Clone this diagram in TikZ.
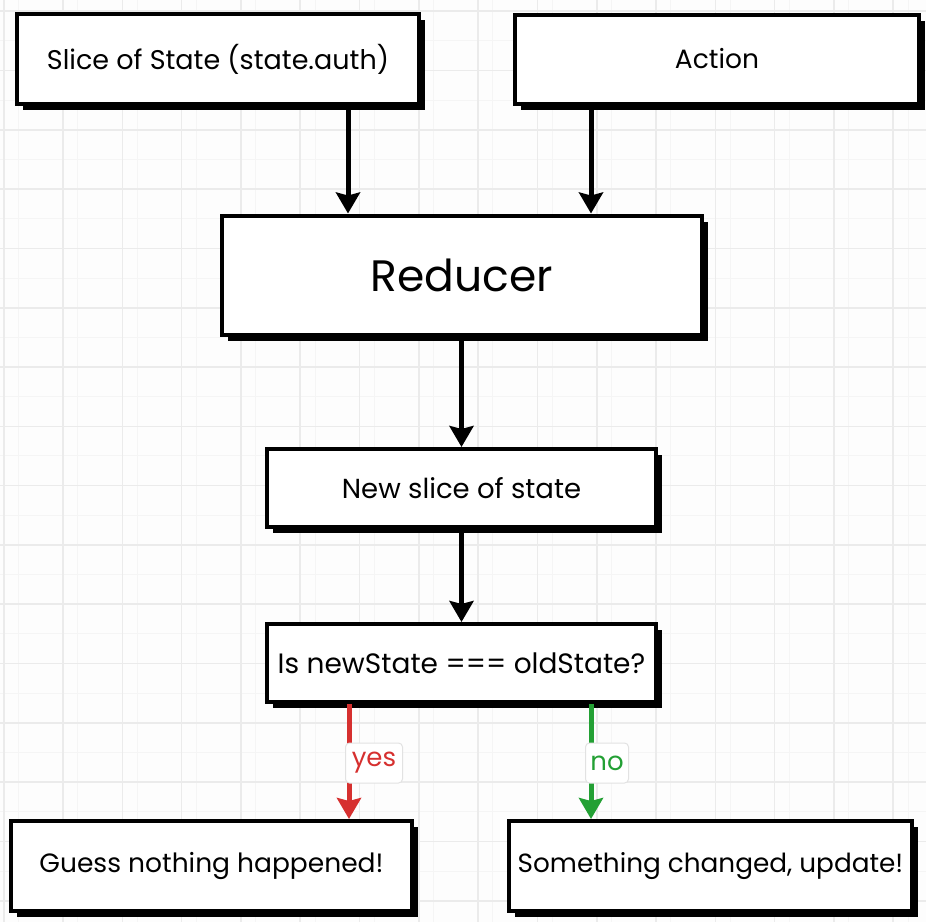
\documentclass[tikz,border=0pt]{standalone}
\usepackage{fontspec}
\setmainfont{Poppins}
\usetikzlibrary{arrows.meta,shadows}
\definecolor{paper}{HTML}{FDFDFD}
\definecolor{gridmajor}{HTML}{EBEBEB}
\definecolor{gridminor}{HTML}{F5F5F5}
\definecolor{yesred}{HTML}{D6302F}
\definecolor{nogreen}{HTML}{23A034}
\definecolor{tagline}{HTML}{E2E2E2}
\newcommand{\fs}[1]{\fontsize{#1}{#1}\selectfont}
\begin{document}
\begin{tikzpicture}[x=1pt,y=-1pt,
  box/.style={draw=black, line width=4pt, fill=white, inner sep=0pt,
    align=center,
    drop shadow={shadow xshift=6pt, shadow yshift=-6pt, fill=black, opacity=1}},
  arr/.style={line width=5pt, -{Stealth[length=21pt,width=24pt,inset=3pt]}},
  tag/.style={draw=tagline, line width=1pt, fill=white, rounded corners=4pt,
    inner sep=0pt, minimum height=40pt, minimum width=#1, font=\fs{26}},
]
\useasboundingbox (0,0) rectangle (926,922);
\fill[paper] (0,0) rectangle (926,922);

% background grid: faint minor lines, stronger major lines
\foreach \i in {0,...,31} {
  \draw[gridminor, line width=1pt] ({18.5+59.3*\i},0) -- ({18.5+59.3*\i},922);
  \draw[gridminor, line width=1pt] (0,{-18.5+59.3*\i}) -- (926,{-18.5+59.3*\i});
}
\foreach \i in {0,...,15} {
  \draw[gridmajor, line width=1.6pt] ({3.7+59.3*\i},0) -- ({3.7+59.3*\i},922);
  \draw[gridmajor, line width=1.6pt] (0,{11.2+59.3*\i}) -- (926,{11.2+59.3*\i});
}

% boxes
\node[box, minimum width=402pt, minimum height=90pt, font=\fs{27}] (slice) at (218,59) {Slice of State (state.auth)};
\node[box, minimum width=404pt, minimum height=89pt, font=\fs{26.5}] (action) at (717,59) {Action};
\node[box, minimum width=480pt, minimum height=119pt, font=\fs{44}] (reducer) at (462,275) {Reducer};
\node[box, minimum width=389pt, minimum height=78pt, font=\fs{27.5}] (newslice) at (461.5,488) {New slice of state};
\node[box, minimum width=389pt, minimum height=78pt, font=\fs{28}] (compare) at (461.5,663) {Is newState === oldState?};
\node[box, minimum width=401pt, minimum height=90pt, font=\fs{26.5}] (same) at (211.5,866) {Guess nothing happened!};
\node[box, minimum width=403pt, minimum height=90pt, font=\fs{26.3}] (changed) at (710.5,866) {Something changed, update!};

% connectors
\draw[arr] (slice.south -| 348,0) -- (reducer.north -| 348,0);
\draw[arr] (action.south -| 591,0) -- (reducer.north -| 591,0);
\draw[arr] (reducer.south -| newslice.north) -- (newslice.north);
\draw[arr] (newslice.south) -- (compare.north);
\draw[arr, yesred] (compare.south -| 349,0) -- (same.north -| 349,0);
\draw[arr, nogreen] (compare.south -| 591,0) -- (changed.north -| 591,0);

% branch labels
\node[tag=57pt, text=yesred, anchor=west] (yes) at (345,763) {yes};
\node[tag=43pt, text=nogreen, anchor=west] (no) at (585,763) {no};
\end{tikzpicture}
\end{document}
